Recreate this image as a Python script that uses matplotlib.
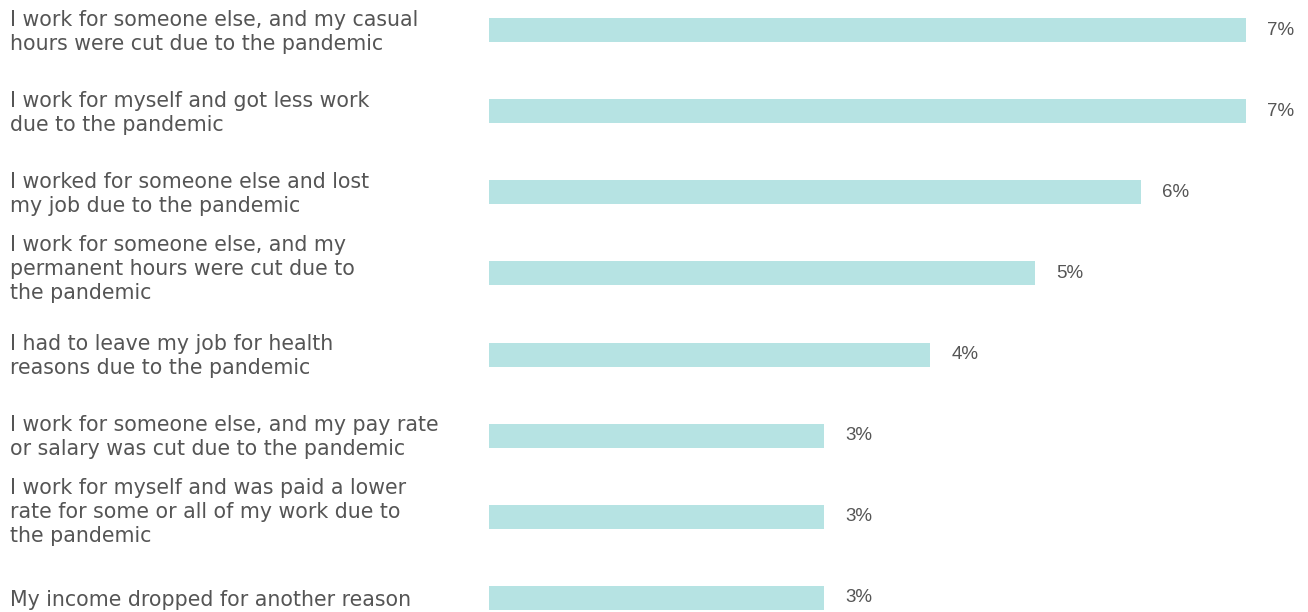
import matplotlib
matplotlib.use("Agg")
import matplotlib.pyplot as plt
from matplotlib.transforms import blended_transform_factory

categories = [
    "I work for someone else, and my casual\nhours were cut due to the pandemic",
    "I work for myself and got less work\ndue to the pandemic",
    "I worked for someone else and lost\nmy job due to the pandemic",
    "I work for someone else, and my\npermanent hours were cut due to\nthe pandemic",
    "I had to leave my job for health\nreasons due to the pandemic",
    "I work for someone else, and my pay rate\nor salary was cut due to the pandemic",
    "I work for myself and was paid a lower\nrate for some or all of my work due to\nthe pandemic",
    "My income dropped for another reason",
]
values = [7.0, 7.0, 6.03, 5.05, 4.08, 3.1, 3.1, 3.1]
value_labels = ["7%", "7%", "6%", "5%", "4%", "3%", "3%", "3%"]

W, H = 1308, 612
fig = plt.figure(figsize=(W / 100, H / 100), dpi=100)
ax = fig.add_axes([489 / W, 0, 1 - 489 / W, 1])
pos = list(range(len(values)))
ax.barh(pos, values, height=0.296, color="#b6e3e3")
ax.set_xlim(0, 7 * 819 / 757)
ax.set_ylim(7 + 14 / 81.14, -30 / 81.14)
ax.axis("off")

for p, v, lab in zip(pos, values, value_labels):
    ax.annotate(lab, (v, p), xytext=(21, 0), textcoords="offset pixels",
                va="center", ha="left", fontsize=13.5, color="#555555",
                family="Liberation Sans")

tr = blended_transform_factory(fig.transFigure, ax.transData)
for p, c in zip(pos, categories):
    off = -0.06 if c.count("\n") >= 2 else 0.02
    ax.text(10 / W, p + off, c, transform=tr, va="center", ha="left",
            fontsize=14.8, color="#555555", family="DejaVu Sans", linespacing=1.25)

fig.savefig("out.png", dpi=100)
